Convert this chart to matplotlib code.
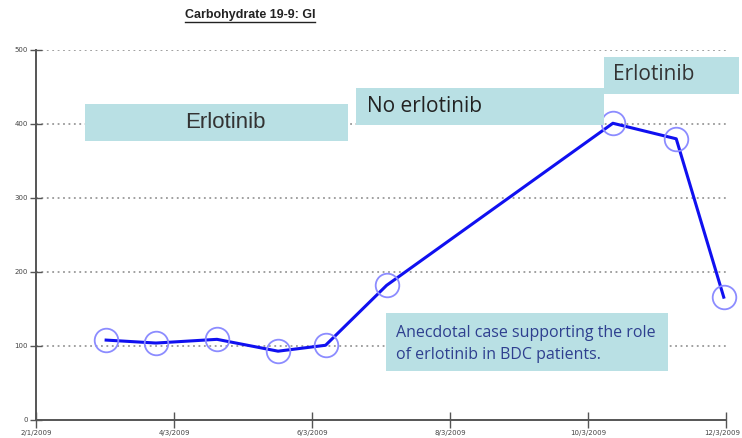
import datetime as dt
import matplotlib
matplotlib.use("Agg")
import matplotlib.pyplot as plt
from matplotlib.patches import Rectangle
from matplotlib.lines import Line2D
from matplotlib.transforms import ScaledTranslation

# datos
dates = ["2009-03-04", "2009-03-26", "2009-04-22", "2009-05-19", "2009-06-09",
         "2009-07-06", "2009-10-14", "2009-11-11", "2009-12-02"]
ca199 = [108, 104, 109, 93, 101, 182, 401, 380, 166]
tick_dates = ["2009-02-01", "2009-04-03", "2009-06-03", "2009-08-03", "2009-10-03", "2009-12-03"]
tick_labels = ["2/1/2009", "4/3/2009", "6/3/2009", "8/3/2009", "10/3/2009", "12/3/2009"]
y_ticks = [0, 100, 200, 300, 400, 500]

x = [dt.datetime.strptime(d, "%Y-%m-%d") for d in dates]
xt = [dt.datetime.strptime(d, "%Y-%m-%d") for d in tick_dates]

W, H = 742, 438
fig = plt.figure(figsize=(W / 100, H / 100), dpi=100)
ax = fig.add_axes([36 / W, 1 - 420 / H, (726 - 36) / W, (420 - 50) / H])

# linea y circulos
ax.plot(x, ca199, color="#1010f0", lw=2.2, zorder=3)
ax.plot(x, ca199, ls="none", marker="o", ms=17, mfc="none", mec="#8c8cff",
        mew=1.3, zorder=4, clip_on=False)

ax.set_xlim(xt[0], xt[-1])
ax.set_ylim(0, 500)
ax.set_xticks(xt)
ax.set_xticklabels(tick_labels)
ax.set_yticks(y_ticks)
ax.set_yticklabels([str(v) for v in y_ticks])
ax.tick_params(direction="inout", length=11, width=1, color="#555555",
               labelsize=5, labelcolor="#444444", pad=2)
ax.tick_params(axis="y", length=8)
# la ultima etiqueta se sale un poco, la movemos
last = ax.get_xticklabels()[-1]
last.set_transform(last.get_transform() + ScaledTranslation(-4 / 100, 0, fig.dpi_scale_trans))
for s in ["top", "right"]:
    ax.spines[s].set_visible(False)
for s in ["left", "bottom"]:
    ax.spines[s].set_color("#555555")
    ax.spines[s].set_linewidth(1.4)
for v in y_ticks[1:]:
    ax.axhline(v, color="#999999", lw=1.3, ls=(0, (1, 2)), zorder=1)

# cajas de texto
box_col = "#b9e0e4"
def caja(x0, y0, x1, y1):
    fig.add_artist(Rectangle((x0 / W, 1 - y1 / H), (x1 - x0) / W, (y1 - y0) / H,
                             transform=fig.transFigure, fc=box_col, ec="none", zorder=5))

caja(85, 104, 348, 141)
fig.text(225 / W, 1 - 123 / H, "Erlotinib", fontsize=16, color="#333333",
         family="Liberation Sans", ha="center", va="center", zorder=6)
caja(356, 88, 604, 125)
fig.text(367 / W, 1 - 107 / H, "No erlotinib", fontsize=15, color="#222222",
         family="Open Sans", ha="left", va="center", zorder=6)
caja(604, 57, 739, 94)
fig.text(613 / W, 1 - 75 / H, "Erlotinib", fontsize=15, color="#333333",
         family="Open Sans", ha="left", va="center", zorder=6)
caja(386, 313, 668, 371)
fig.text(396 / W, 1 - 344 / H, "Anecdotal case supporting the role\nof erlotinib in BDC patients.",
         fontsize=11.5, color="#2e3f8f", family="Open Sans", ha="left", va="center",
         linespacing=1.45, zorder=6)

# titulo subrayado
t = fig.text(250 / W, 1 - 15 / H, "Carbohydrate 19-9: GI", fontsize=9, fontweight="bold",
             family="Liberation Sans", color="#222222", ha="center", va="center")
fig.canvas.draw()
bb = t.get_window_extent()
fig.add_artist(Line2D([bb.x0 / W, bb.x1 / W], [(bb.y0 - 1) / H, (bb.y0 - 1) / H],
                      transform=fig.transFigure, color="#222222", lw=1))

fig.savefig("out.png", dpi=100)
